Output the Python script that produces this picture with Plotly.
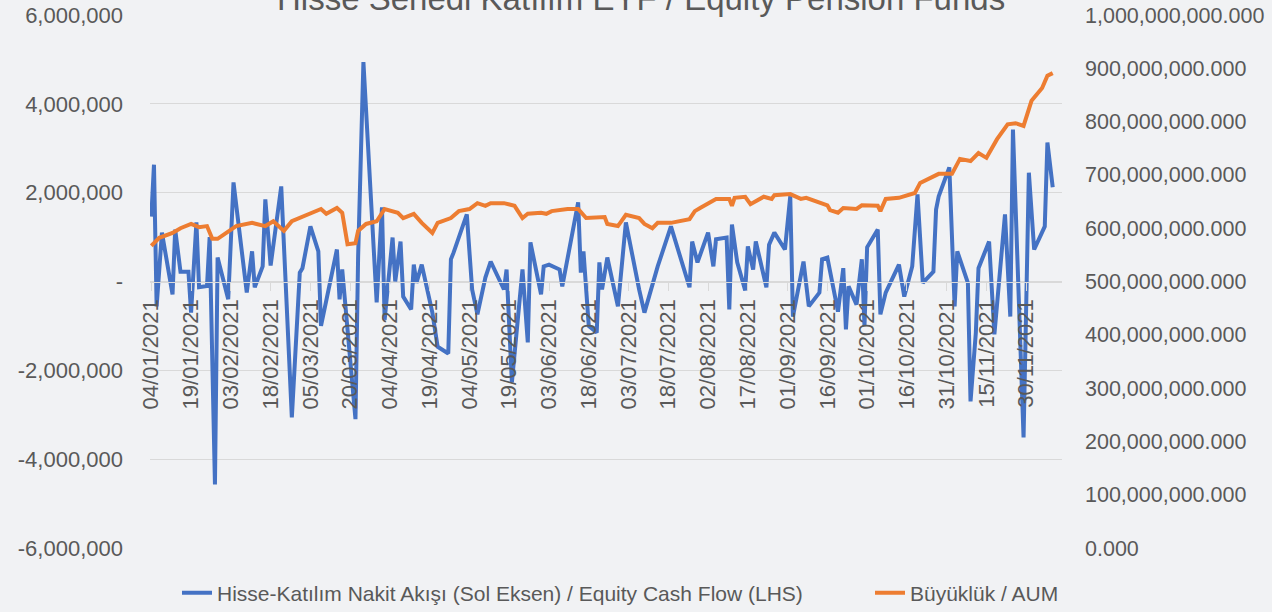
import plotly.graph_objects as go

TITLE = "Hisse Senedi Katılım EYF / Equity Pension Funds"
NAME_FLOW = "Hisse-Katılım Nakit Akışı (Sol Eksen) / Equity Cash Flow (LHS)"
NAME_AUM = "Büyüklük / AUM"

flow_dates = [
    "2021-01-04", "2021-01-05", "2021-01-06", "2021-01-08", "2021-01-12", "2021-01-13", "2021-01-15",
    "2021-01-18", "2021-01-19", "2021-01-21", "2021-01-22", "2021-01-25", "2021-01-26", "2021-01-28",
    "2021-01-29", "2021-02-02", "2021-02-04", "2021-02-09", "2021-02-11", "2021-02-12", "2021-02-15",
    "2021-02-16", "2021-02-18", "2021-02-22", "2021-02-26", "2021-03-01", "2021-03-02", "2021-03-05",
    "2021-03-08", "2021-03-09", "2021-03-15", "2021-03-16", "2021-03-17", "2021-03-22", "2021-03-23",
    "2021-03-25", "2021-03-30", "2021-04-01", "2021-04-02", "2021-04-05", "2021-04-06", "2021-04-08",
    "2021-04-09", "2021-04-12", "2021-04-13", "2021-04-14", "2021-04-16", "2021-04-20", "2021-04-22",
    "2021-04-26", "2021-04-27", "2021-04-28", "2021-05-03", "2021-05-05", "2021-05-07", "2021-05-10",
    "2021-05-12", "2021-05-17", "2021-05-18", "2021-05-20", "2021-05-24", "2021-05-26", "2021-05-27",
    "2021-05-31", "2021-06-01", "2021-06-03", "2021-06-07", "2021-06-08", "2021-06-14", "2021-06-15",
    "2021-06-16", "2021-06-18", "2021-06-21", "2021-06-22", "2021-06-23", "2021-06-25", "2021-06-29",
    "2021-07-02", "2021-07-07", "2021-07-09", "2021-07-14", "2021-07-19", "2021-07-26", "2021-07-27",
    "2021-07-29", "2021-08-02", "2021-08-04", "2021-08-05", "2021-08-09", "2021-08-10", "2021-08-11",
    "2021-08-13", "2021-08-16", "2021-08-17", "2021-08-19", "2021-08-20", "2021-08-24", "2021-08-25",
    "2021-08-27", "2021-08-31", "2021-09-02", "2021-09-03", "2021-09-07", "2021-09-09", "2021-09-13",
    "2021-09-14", "2021-09-16", "2021-09-20", "2021-09-22", "2021-09-23", "2021-09-24", "2021-09-27",
    "2021-09-29", "2021-09-30", "2021-10-01", "2021-10-05", "2021-10-06", "2021-10-08", "2021-10-13",
    "2021-10-15", "2021-10-18", "2021-10-20", "2021-10-22", "2021-10-26", "2021-10-27", "2021-10-28",
    "2021-11-01", "2021-11-03", "2021-11-04", "2021-11-08", "2021-11-09", "2021-11-11", "2021-11-12",
    "2021-11-16", "2021-11-18", "2021-11-22", "2021-11-24", "2021-11-25", "2021-11-29", "2021-12-01",
    "2021-12-03", "2021-12-07", "2021-12-08", "2021-12-10",
]
flow_values = [
    1460000, 2630000, -560000, 1100000, -290000, 1170000, 220000,
    220000, -700000, 1330000, -130000, -100000, 1000000, -4570000,
    540000, -400000, 2230000, -250000, 680000, -130000, 340000,
    1850000, 360000, 2140000, -3060000, 200000, 300000, 1240000,
    680000, -1000000, 720000, -400000, 270000, -3100000, 560000,
    4940000, -470000, 1670000, -860000, 990000, 0, 900000,
    -340000, -630000, 380000, -30000, 380000, -700000, -1470000,
    -1620000, 500000, 650000, 1510000, -180000, -740000, 90000,
    450000, -180000, 270000, -2270000, 270000, -1370000, 880000,
    -290000, 340000, 380000, 270000, -110000, 1780000, 200000,
    680000, -1000000, -1150000, 430000, -180000, 540000, -560000,
    1330000, -180000, -700000, 340000, 1240000, -130000, 900000,
    430000, 1100000, 340000, 950000, 990000, -630000, 1280000,
    430000, -200000, 790000, 270000, 900000, -130000, 830000,
    1100000, 720000, 1920000, -790000, 450000, -560000, -250000,
    500000, 540000, -680000, 300000, -1080000, -110000, -520000,
    500000, -1000000, 770000, 1170000, -740000, -250000, 380000,
    -340000, 340000, 1960000, -30000, 220000, 1620000, 1920000,
    2570000, -560000, 680000, -30000, -2700000, -1150000, 300000,
    900000, -1190000, 1510000, -790000, 3420000, -3510000, 2450000,
    720000, 1240000, 3130000, 2120000,
]

aum_dates = [
    "2021-01-04", "2021-01-07", "2021-01-12", "2021-01-15", "2021-01-19", "2021-01-22", "2021-01-25",
    "2021-01-27", "2021-01-29", "2021-02-01", "2021-02-05", "2021-02-11", "2021-02-16", "2021-02-19",
    "2021-02-23", "2021-02-26", "2021-03-01", "2021-03-05", "2021-03-09", "2021-03-11", "2021-03-15",
    "2021-03-17", "2021-03-19", "2021-03-22", "2021-03-23", "2021-03-26", "2021-03-30", "2021-04-02",
    "2021-04-07", "2021-04-09", "2021-04-13", "2021-04-16", "2021-04-20", "2021-04-22", "2021-04-27",
    "2021-04-30", "2021-05-04", "2021-05-07", "2021-05-10", "2021-05-12", "2021-05-17", "2021-05-21",
    "2021-05-24", "2021-05-26", "2021-05-31", "2021-06-02", "2021-06-04", "2021-06-10", "2021-06-14",
    "2021-06-17", "2021-06-24", "2021-06-25", "2021-06-29", "2021-07-02", "2021-07-07", "2021-07-09",
    "2021-07-12", "2021-07-14", "2021-07-19", "2021-07-26", "2021-07-28", "2021-07-30", "2021-08-05",
    "2021-08-10", "2021-08-11", "2021-08-12", "2021-08-16", "2021-08-18", "2021-08-23", "2021-08-26",
    "2021-08-27", "2021-09-02", "2021-09-06", "2021-09-08", "2021-09-13", "2021-09-16", "2021-09-17",
    "2021-09-20", "2021-09-22", "2021-09-27", "2021-09-29", "2021-10-05", "2021-10-06", "2021-10-08",
    "2021-10-13", "2021-10-15", "2021-10-19", "2021-10-21", "2021-10-25", "2021-10-28", "2021-11-02",
    "2021-11-05", "2021-11-09", "2021-11-12", "2021-11-15", "2021-11-19", "2021-11-23", "2021-11-26",
    "2021-11-29", "2021-12-02", "2021-12-06", "2021-12-08", "2021-12-10",
]
aum_values = [
    567e6, 582e6, 591e6, 600e6, 608e6, 602e6, 604e6,
    580e6, 580e6, 591e6, 604e6, 610e6, 604e6, 613e6,
    595e6, 613e6, 619e6, 627e6, 636e6, 627e6, 638e6,
    629e6, 570e6, 572e6, 595e6, 608e6, 613e6, 636e6,
    629e6, 619e6, 627e6, 610e6, 591e6, 610e6, 619e6,
    632e6, 636e6, 647e6, 642e6, 647e6, 647e6, 642e6,
    619e6, 627e6, 629e6, 627e6, 632e6, 636e6, 636e6,
    619e6, 621e6, 608e6, 604e6, 625e6, 619e6, 608e6,
    600e6, 610e6, 610e6, 617e6, 632e6, 638e6, 655e6,
    655e6, 642e6, 657e6, 659e6, 645e6, 659e6, 655e6,
    662e6, 664e6, 655e6, 657e6, 647e6, 643e6, 634e6,
    629e6, 638e6, 636e6, 643e6, 642e6, 632e6, 655e6,
    657e6, 660e6, 666e6, 685e6, 694e6, 702e6, 702e6,
    730e6, 726e6, 741e6, 732e6, 767e6, 795e6, 797e6,
    792e6, 839e6, 863e6, 886e6, 891e6,
]

left_tickvals = [-6e6, -4e6, -2e6, 0, 2e6, 4e6, 6e6]
left_ticktext = ["-6,000,000", "-4,000,000", "-2,000,000", "-", "2,000,000", "4,000,000", "6,000,000"]
right_tickvals = [i * 1e8 for i in range(11)]

BLUE = "#4472C4"
ORANGE = "#ED7D31"
TXT = "#595959"
GRID = "#D9D9D9"
BG = "#F1F2F4"
FONT = "Liberation Sans, Arial, sans-serif"

fig = go.Figure()
fig.add_trace(go.Scatter(x=flow_dates, y=flow_values, name=NAME_FLOW, mode="lines",
                         line=dict(color=BLUE, width=4), yaxis="y", legend="legend"))
fig.add_trace(go.Scatter(x=aum_dates, y=aum_values, name=NAME_AUM, mode="lines",
                         line=dict(color=ORANGE, width=4), yaxis="y2", legend="legend2"))

fig.add_annotation(text=TITLE, xref="paper", yref="paper", x=(641 - 150) / 912, y=1.0,
                   xanchor="center", yanchor="middle", yshift=17, showarrow=False,
                   font=dict(size=33, color=TXT))

LEG_Y = (548 - 593) / 533
fig.update_layout(
    width=1272, height=612,
    margin=dict(l=150, r=210, t=15, b=64, autoexpand=False),
    paper_bgcolor=BG, plot_bgcolor=BG,
    font=dict(family=FONT, size=21, color=TXT),
    showlegend=True,
    legend=dict(orientation="h", x=0.0296, xanchor="left", y=LEG_Y, yanchor="middle",
                font=dict(size=21, color=TXT), bgcolor="rgba(0,0,0,0)"),
    legend2=dict(orientation="h", x=(870 - 150) / 912, xanchor="left", y=LEG_Y, yanchor="middle",
                 font=dict(size=21, color=TXT), bgcolor="rgba(0,0,0,0)"),
    xaxis=dict(type="date", range=["2021-01-03 12:00", "2021-12-13 12:00"],
               tick0="2021-01-04", dtick=15 * 86400000, tickformat="%d/%m/%Y",
               tickangle=-90, anchor="free", position=0.5, showgrid=False,
               showline=True, linecolor=GRID, linewidth=1,
               ticks="outside", ticklen=8, tickcolor=GRID, tickfont=dict(size=22, color=TXT),
               zeroline=False, automargin=False),
    yaxis=dict(range=[-6e6, 6e6], tickvals=left_tickvals, ticktext=left_ticktext,
               showgrid=True, gridcolor=GRID, gridwidth=1, zeroline=True, zerolinecolor=GRID,
               zerolinewidth=1, showline=False, ticks="", ticklabelstandoff=26,
               tickfont=dict(size=22, color=TXT), automargin=False),
    yaxis2=dict(range=[0, 1e9], tickvals=right_tickvals, tickformat=",.3f", overlaying="y",
                side="right", showgrid=False, zeroline=False, showline=False, ticks="",
                ticklabelstandoff=22, tickfont=dict(size=21.5, color=TXT), automargin=False),
)

fig.write_html("out.html", config={"displayModeBar": False},
               post_script="document.body.style.margin='0';document.body.style.background='%s';" % BG)
